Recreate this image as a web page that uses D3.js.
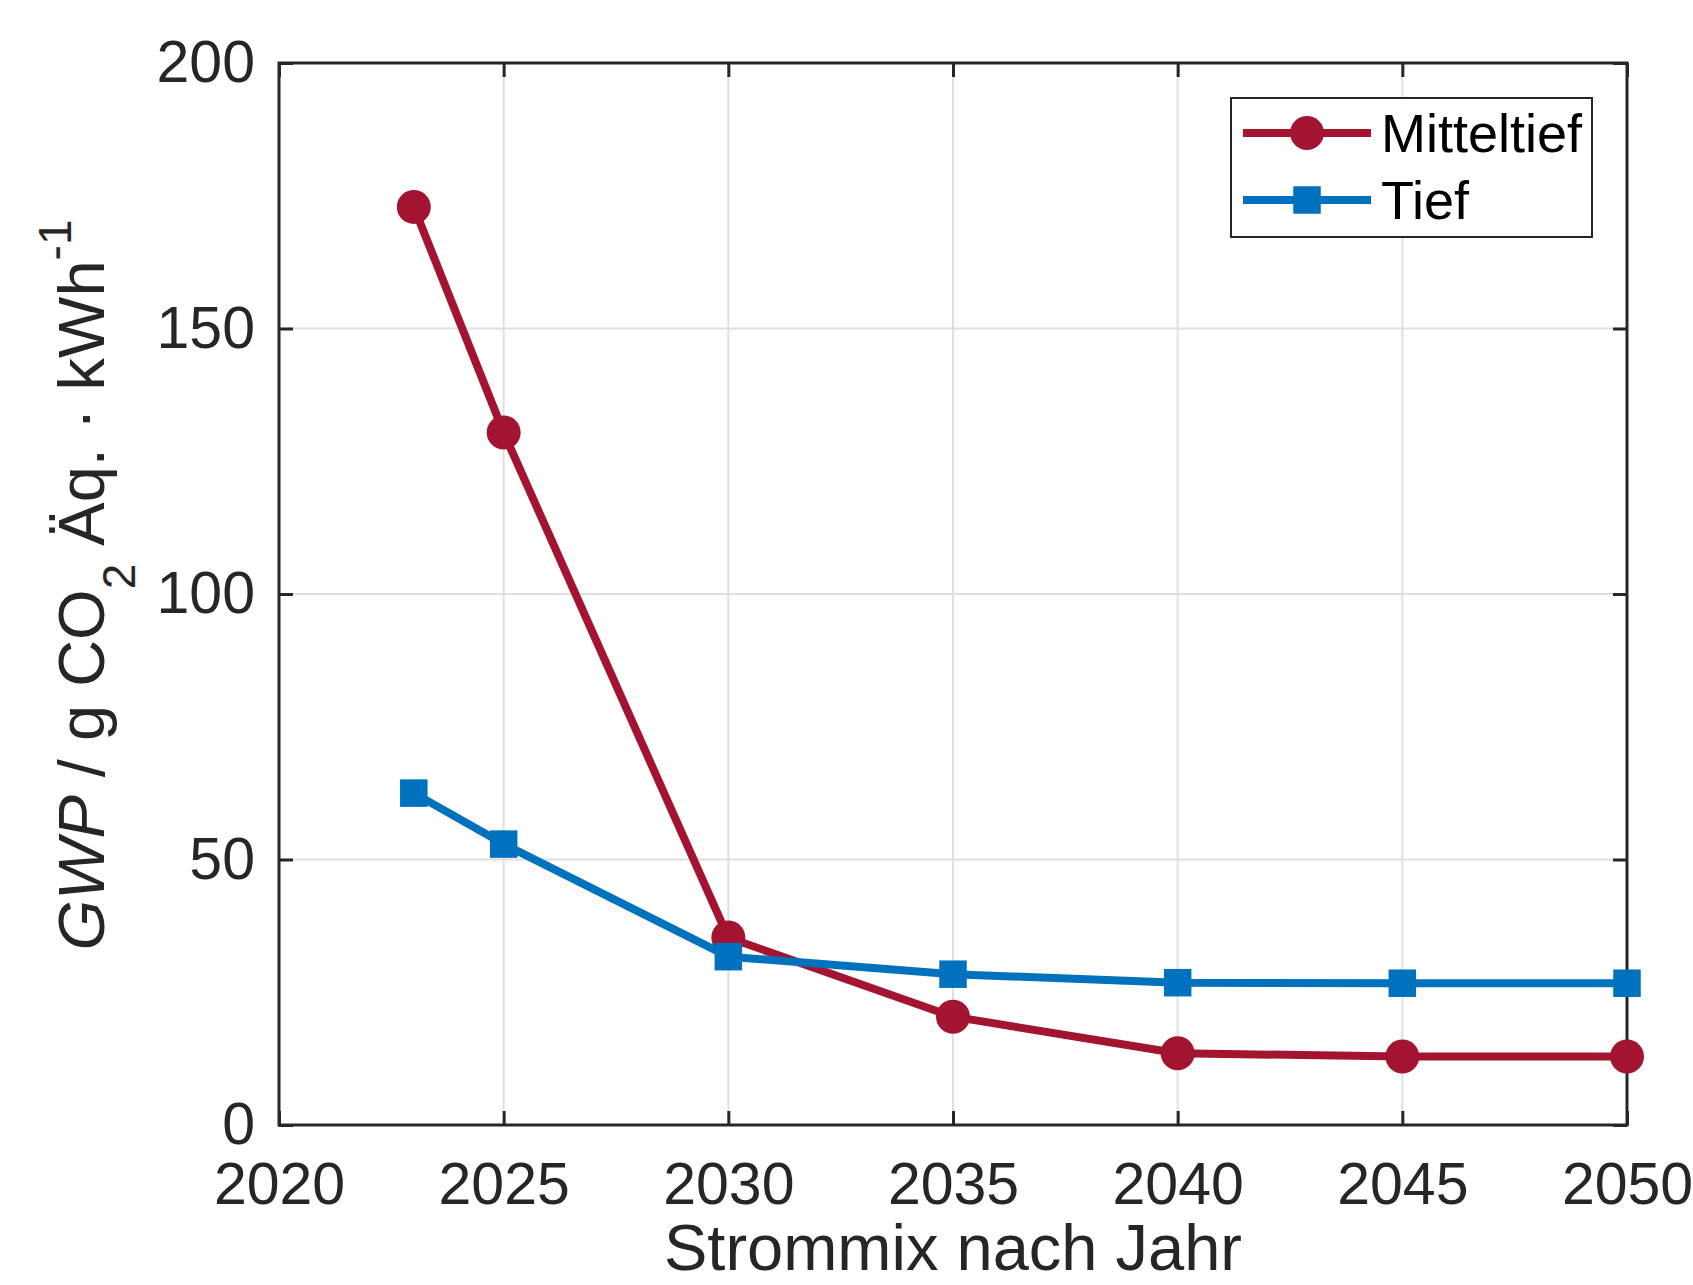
<!DOCTYPE html>
<html>
<head>
<meta charset="utf-8">
<script src="https://cdn.jsdelivr.net/npm/d3@7"></script>
<style>
  html, body { margin: 0; padding: 0; background: #fff; }
  svg { display: block; }
  text { font-family: "Liberation Sans", Arial, Helvetica, sans-serif; fill: #262626; }
</style>
</head>
<body>
<svg id="chart" width="1693" height="1285"></svg>
<script>
// ---- data ----
const years = [2023, 2025, 2030, 2035, 2040, 2045, 2050];
const mitteltief = [172.9, 130.4, 35.3, 20.4, 13.5, 12.9, 12.9];
const tief = [62.5, 52.9, 31.7, 28.4, 26.8, 26.7, 26.7];
const seriesNames = ["Mitteltief", "Tief"];
const xTicks = [2020, 2025, 2030, 2035, 2040, 2045, 2050];
const yTicks = [0, 50, 100, 150, 200];
const xLabel = "Strommix nach Jahr";

// ---- layout ----
const svg = d3.select("#chart");
const L = 279, T = 63, R = 1627, B = 1125;
const ink = "#262626";
const colors = { Mitteltief: "#A2142F", Tief: "#0072BD" };

const x = d3.scaleLinear().domain([2020, 2050]).range([L, R]);
const y = d3.scaleLinear().domain([0, 200]).range([B, T]);

// grid
const grid = svg.append("g");
grid.selectAll(".gx").data(xTicks).join("line")
  .attr("x1", d => x(d)).attr("x2", d => x(d)).attr("y1", T).attr("y2", B)
  .attr("stroke", "#dfdfdf").attr("stroke-width", 2);
grid.selectAll(".gy").data(yTicks).join("line")
  .attr("x1", L).attr("x2", R).attr("y1", d => y(d)).attr("y2", d => y(d))
  .attr("stroke", "#dfdfdf").attr("stroke-width", 2);

// axes (D3 axes, ticks inward)
const tickLen = 14;
const xAxis = svg.append("g").attr("transform", `translate(0,${B})`)
  .call(d3.axisBottom(x).tickValues(xTicks).tickFormat(d3.format("d")).tickSizeInner(-tickLen).tickSizeOuter(0).tickPadding(37));
const xAxisTop = svg.append("g").attr("transform", `translate(0,${T})`)
  .call(d3.axisTop(x).tickValues(xTicks).tickFormat("").tickSizeInner(-tickLen).tickSizeOuter(0));
const yAxis = svg.append("g").attr("transform", `translate(${L},0)`)
  .call(d3.axisLeft(y).tickValues(yTicks).tickFormat(d3.format("d")).tickSizeInner(-tickLen).tickSizeOuter(0).tickPadding(24));
const yAxisRight = svg.append("g").attr("transform", `translate(${R},0)`)
  .call(d3.axisRight(y).tickValues(yTicks).tickFormat("").tickSizeInner(-tickLen).tickSizeOuter(0));

[xAxis, xAxisTop, yAxis, yAxisRight].forEach(g => {
  g.select(".domain").remove();
  g.selectAll(".tick line").attr("stroke", ink).attr("stroke-width", 3);
  g.selectAll(".tick text").attr("fill", ink).style("font-size", "59px")
    .style("font-family", '"Liberation Sans", Arial, sans-serif');
});
xAxis.selectAll(".tick text").attr("dy", "0.71em");

// box
svg.append("rect").attr("x", L).attr("y", T).attr("width", R - L).attr("height", B - T)
  .attr("fill", "none").attr("stroke", ink).attr("stroke-width", 3);

// series
const seriesData = { Mitteltief: mitteltief, Tief: tief };
const line = d3.line().x(d => x(d[0])).y(d => y(d[1]));
const plot = svg.append("g");
const sq = 27.5, rad = 17;

seriesNames.forEach(name => {
  const pts = years.map((yr, i) => [yr, seriesData[name][i]]);
  plot.append("path").datum(pts).attr("d", line)
    .attr("fill", "none").attr("stroke", colors[name]).attr("stroke-width", 8)
    .attr("stroke-linejoin", "round");
  if (name === "Mitteltief") {
    plot.selectAll(".m" + name).data(pts).join("circle")
      .attr("cx", d => x(d[0])).attr("cy", d => y(d[1])).attr("r", rad)
      .attr("fill", colors[name]);
  } else {
    plot.selectAll(".m" + name).data(pts).join("rect")
      .attr("x", d => x(d[0]) - sq / 2).attr("y", d => y(d[1]) - sq / 2)
      .attr("width", sq).attr("height", sq)
      .attr("fill", colors[name]);
  }
});

// x label
svg.append("text").attr("x", (L + R) / 2).attr("y", 1270)
  .attr("text-anchor", "middle").style("font-size", "65px").text(xLabel);

// y label
const yl = svg.append("text")
  .attr("transform", `translate(104,${(T + B) / 2 - 9}) rotate(-90)`)
  .attr("text-anchor", "middle").style("font-size", "65px");
yl.append("tspan").style("font-style", "italic").text("GWP");
yl.append("tspan").text(" / g CO");
yl.append("tspan").attr("dy", 31).style("font-size", "46px").text("2");
yl.append("tspan").attr("dy", -31).text(" Äq. · kWh");
yl.append("tspan").attr("dy", -33).style("font-size", "46px").text("-1");

// legend
const lg = svg.append("g");
lg.append("rect").attr("x", 1231).attr("y", 98).attr("width", 361).attr("height", 139)
  .attr("fill", "#fff").attr("stroke", ink).attr("stroke-width", 2);
const rowY = [133, 200];
seriesNames.forEach((name, i) => {
  const cy = rowY[i];
  lg.append("line").attr("x1", 1243).attr("x2", 1371).attr("y1", cy).attr("y2", cy)
    .attr("stroke", colors[name]).attr("stroke-width", 8);
  if (name === "Mitteltief") {
    lg.append("circle").attr("cx", 1307).attr("cy", cy).attr("r", rad).attr("fill", colors[name]);
  } else {
    lg.append("rect").attr("x", 1307 - sq / 2).attr("y", cy - sq / 2).attr("width", sq).attr("height", sq)
      .attr("fill", colors[name]);
  }
  lg.append("text").attr("x", 1381).attr("y", cy).attr("dy", "0.36em")
    .style("font-size", "54px").style("fill", "#000").text(name);
});
</script>
</body>
</html>
